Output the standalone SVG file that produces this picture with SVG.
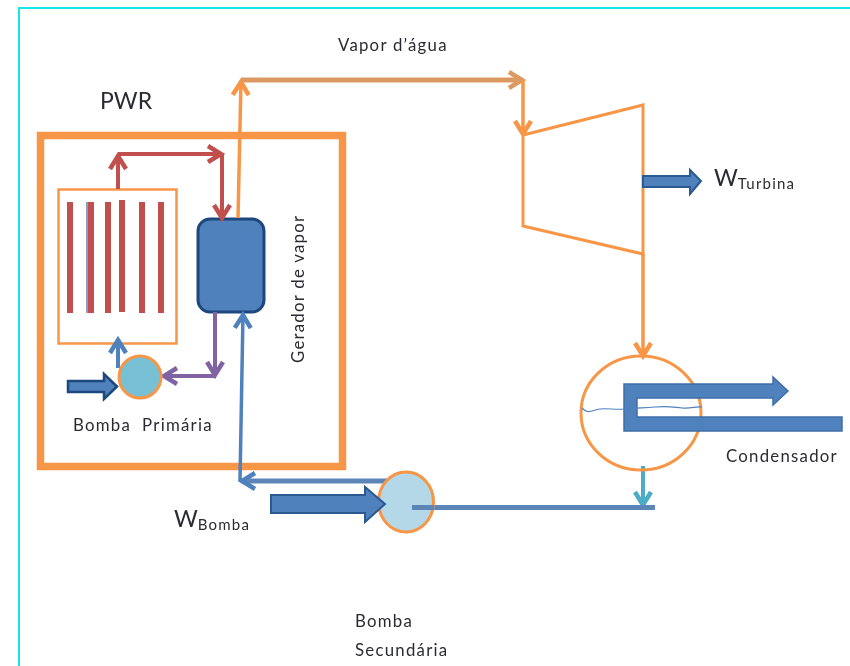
<svg xmlns="http://www.w3.org/2000/svg" width="850" height="666" viewBox="0 0 850 666">
<style>
text{font-family:Lato,"Open Sans","Liberation Sans",sans-serif;fill:#2b2b33}
.l{font-size:16.800px;letter-spacing:1.250px}
.w{font-size:23px}
.s{font-size:15px;letter-spacing:1.200px}
.o{fill:none;stroke:#f79646}
.line{fill:none;stroke-linejoin:miter}
.b{fill:#4f81bd;stroke:#2c5a8f;stroke-width:2}
.rod{fill:#c0504d}
</style>
<defs>
<filter id="soft" x="0" y="0" width="100%" height="100%"><feGaussianBlur stdDeviation="0.500"/></filter>
<marker id="red" markerUnits="userSpaceOnUse" markerWidth="22" markerHeight="22" refX="16" refY="10" orient="auto"><path d="M2 2L15 10L2 18" fill="none" stroke="#c0504d" stroke-width="4.500"/></marker>
<marker id="pur" markerUnits="userSpaceOnUse" markerWidth="22" markerHeight="22" refX="16" refY="10" orient="auto"><path d="M2 2L15 10L2 18" fill="none" stroke="#8064a2" stroke-width="4.500"/></marker>
<marker id="blu" markerUnits="userSpaceOnUse" markerWidth="22" markerHeight="22" refX="16" refY="10" orient="auto"><path d="M2 2L15 10L2 18" fill="none" stroke="#4f81bd" stroke-width="4.500"/></marker>
<marker id="org" markerUnits="userSpaceOnUse" markerWidth="22" markerHeight="22" refX="16" refY="10" orient="auto"><path d="M2 2L15 10L2 18" fill="none" stroke="#f79646" stroke-width="4.500"/></marker>
<marker id="brn" markerUnits="userSpaceOnUse" markerWidth="22" markerHeight="22" refX="16" refY="10" orient="auto"><path d="M2 2L15 10L2 18" fill="none" stroke="#dc9a62" stroke-width="4.500"/></marker>
<marker id="tea" markerUnits="userSpaceOnUse" markerWidth="22" markerHeight="22" refX="16" refY="10" orient="auto"><path d="M2 2L15 10L2 18" fill="none" stroke="#4bacc6" stroke-width="4.500"/></marker>
</defs>
<rect width="850" height="666" fill="#fff"/>
<g filter="url(#soft)">
<path d="M850 7.500H18.500V666" fill="none" stroke="#14e6ea" stroke-width="3"/>
<g id="pwr-vessel"><rect x="40.500" y="135.500" width="302" height="331" class="o" stroke-width="7.500"/><text x="100" y="109" font-size="23">PWR</text></g>
<g id="core"><rect x="58.500" y="189.500" width="118" height="154" class="o" stroke-width="2.500"/>
<rect class="rod" x="67" y="202" width="6" height="111"/><rect x="86" y="202" width="2" height="111" fill="#8a9cc4"/><rect class="rod" x="88" y="202" width="6" height="111"/><rect class="rod" x="105" y="202" width="6" height="111"/><rect class="rod" x="119" y="200" width="6" height="112"/><rect class="rod" x="139" y="202" width="6" height="111"/><rect class="rod" x="158" y="202" width="6" height="111"/></g>
<g id="gerador"><rect x="198" y="219" width="66" height="93" rx="12" fill="#4f81bd" stroke="#1f497d" stroke-width="3"/><text transform="translate(304 363) rotate(-90)" class="l">Gerador de vapor</text></g>
<g id="connectors" class="line">
<path d="M118 189V155" stroke="#c0504d" stroke-width="4" marker-end="url(#red)"/>
<path d="M118 154H222" stroke="#c0504d" stroke-width="4" marker-end="url(#red)"/>
<path d="M222 154V219" stroke="#c0504d" stroke-width="4" marker-end="url(#red)"/>
<path d="M215 312V376" stroke="#8064a2" stroke-width="4" marker-end="url(#pur)"/>
<path d="M215 376H163" stroke="#8064a2" stroke-width="4" marker-end="url(#pur)"/>
<path d="M118 368V339" stroke="#4f81bd" stroke-width="4" marker-end="url(#blu)"/>
<path d="M400 481H241" stroke="#5d86b8" stroke-width="5" marker-end="url(#blu)"/>
<path d="M240 481L243 314" stroke="#4f81bd" stroke-width="3.500" marker-end="url(#blu)"/>
<path d="M238 218L241 81" stroke="#f79646" stroke-width="3.500" marker-end="url(#org)"/>
<path d="M241 80H523" stroke="#dc9a62" stroke-width="5" marker-end="url(#brn)"/>
<path d="M523 80V135" stroke="#f79646" stroke-width="3.500" marker-end="url(#org)"/>
<path d="M643 254V357" stroke="#f79646" stroke-width="3.500" marker-end="url(#org)"/>
<path d="M643 466V506" stroke="#4bacc6" stroke-width="4" marker-end="url(#tea)"/>
<path d="M412 507.500H655" stroke="#5d86b8" stroke-width="5"/>
</g>
<g id="turbina"><path d="M523 135L643 105V254L523 226Z" class="o" stroke-width="3"/><path class="b" d="M643 176H690V170L701 181L690 194V187H643Z"/><text x="714" y="186" class="w">W<tspan class="s" dy="3">Turbina</tspan></text></g>
<g id="bomba-primaria"><circle cx="140" cy="377" r="21" fill="#78c0d3" stroke="#f79646" stroke-width="3"/><path d="M68 381H104V374L117 386.500L104 399V392H68Z" fill="#4f81bd" stroke="#1f497d" stroke-width="2.500"/><text x="73" y="431" class="l">Bomba&#160;&#160;Primária</text></g>
<g id="bomba-secundaria"><ellipse cx="406" cy="502" rx="27.500" ry="30" fill="#b4d8e8" stroke="#f79646" stroke-width="3"/><path class="b" d="M271 495H365V487L385 504L365 522V513H271Z"/><path d="M412 507.500H434" stroke="#5d86b8" stroke-width="5"/><text x="355" y="627" class="l">Bomba</text><text x="355" y="656" class="l">Secundária</text><text x="174" y="527" class="w">W<tspan class="s" dy="3">Bomba</tspan></text></g>
<g id="condensador"><ellipse cx="641" cy="413" rx="60" ry="57" class="o" stroke-width="3"/><path d="M624 384H773V377L788 391L773 405V398H637V417H842V431H624Z" fill="#4f81bd" stroke="#3f6fa8" stroke-width="1.500"/><path d="M582 408C588 415 592 410 600 409S615 410 625 409 640 408 655 407 672 407 682 408 695 406 702 407" fill="none" stroke="#4f81bd" stroke-width="1.200"/><text x="726" y="462" class="l">Condensador</text></g>
<g id="vapor-label"><text x="338" y="51" class="l">Vapor d’água</text></g>
</g>
</svg>
